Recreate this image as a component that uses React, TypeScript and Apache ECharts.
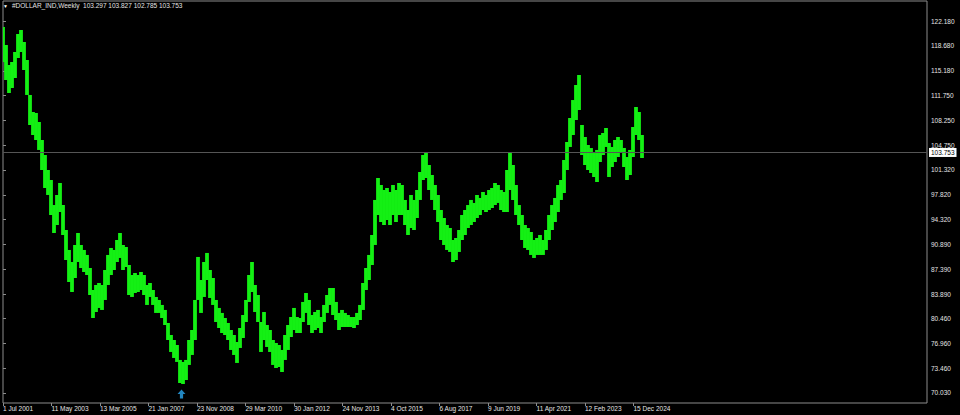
import { useEffect, useRef } from "react";
import * as echarts from "echarts";

// ---- data (each point spans 6 weekly bars) ----
const highs = [
  121.34, 118.82, 116.01, 116.43, 117.83, 120.36, 120.92, 119.24, 116.71, 111.81,
  109.42, 109.28, 108.02, 105.5, 103.39, 101.29, 99.89, 96.38, 97.79, 99.47,
  96.38, 92.88, 90.08, 88.39, 90.78, 92.46, 90.78, 90.08, 89.38, 87.55,
  84.47, 85.17, 85.45, 85.17, 87.27, 89.38, 90.36, 90.08, 91.48, 92.46,
  90.78, 90.5, 87.97, 86.57, 86.85, 86.57, 86.99, 86.57, 85.17, 85.45,
  84.47, 83.49, 83.07, 82.37, 81.67, 79.84, 78.16, 77.46, 76.76, 74.66,
  74.38, 74.66, 77.46, 78.86, 83.07, 89.1, 85.87, 88.39, 89.66, 87.27,
  86.15, 83.07, 81.95, 81.25, 80.54, 79.84, 78.86, 78.16, 77.18, 79.14,
  80.96, 83.07, 86.57, 88.39, 85.17, 83.77, 79.98, 81.38, 79.56, 78.86,
  77.46, 77.04, 76.76, 76.06, 78.16, 79.56, 80.68, 81.95, 80.68, 80.54,
  82.79, 84.05, 83.07, 80.96, 81.38, 81.67, 80.68, 82.37, 83.77, 84.75,
  84.75, 82.79, 81.25, 81.67, 81.25, 80.96, 80.68, 80.68, 81.25, 82.37,
  85.45, 87.55, 89.38, 92.18, 97.09, 100.17, 99.19, 98.49, 98.77, 98.21,
  99.19, 98.49, 99.47, 99.19, 97.09, 95.68, 97.79, 97.09, 98.49, 101.01,
  103.39, 103.81, 101.99, 100.59, 99.19, 97.79, 95.68, 94.56, 93.58, 93.16,
  91.48, 91.76, 92.88, 94.98, 95.68, 96.38, 97.09, 96.67, 97.79, 97.37,
  98.21, 97.79, 98.49, 98.77, 99.47, 99.19, 98.49, 98.21, 101.29, 103.81,
  101.99, 99.19, 96.38, 94.98, 93.58, 93.16, 92.6, 91.48, 91.76, 92.18,
  91.48, 92.88, 94.98, 96.38, 97.37, 99.19, 99.89, 102.69, 105.22, 108.58,
  111.1, 113.21, 114.61, 107.6, 105.92, 104.8, 104.37, 103.68, 104.1, 106.2,
  106.48, 107.18, 105.08, 104.52, 105.5, 105.92, 105.5, 104.38, 103.11, 104.1,
  107.32, 110.12, 109.42, 106.2
];
const lows = [
  116.43, 113.91, 112.09, 112.79, 114.19, 116.99, 117.83, 115.31, 111.81, 107.6,
  106.2, 105.5, 104.1, 101.29, 98.77, 97.79, 94.98, 92.46, 93.58, 95.4,
  92.18, 88.67, 85.59, 84.19, 86.15, 88.39, 87.55, 86.99, 86.57, 83.77,
  80.54, 81.38, 81.95, 81.67, 83.07, 85.17, 86.57, 87.27, 88.39, 88.96,
  87.27, 87.69, 83.77, 83.49, 84.05, 84.19, 84.47, 83.77, 82.37, 83.49,
  82.37, 81.25, 81.25, 80.54, 79.56, 77.46, 75.78, 74.94, 74.38, 71.43,
  71.29, 71.85, 73.96, 75.36, 77.46, 83.07, 81.25, 83.49, 85.87, 83.35,
  82.37, 79.98, 79.14, 78.44, 78.16, 77.46, 76.06, 75.36, 74.24, 76.34,
  77.74, 79.98, 82.79, 84.19, 81.38, 79.98, 75.78, 77.46, 76.48, 75.78,
  73.96, 73.53, 73.67, 72.97, 74.66, 76.06, 77.88, 78.86, 78.44, 78.44,
  79.98, 81.25, 79.56, 78.44, 78.86, 79.14, 78.44, 79.98, 81.25, 82.37,
  80.96, 80.26, 78.86, 79.28, 79.28, 79.28, 79.28, 79.14, 79.56, 80.26,
  81.67, 84.47, 85.87, 87.97, 90.78, 94.98, 94.0, 93.58, 94.28, 93.58,
  94.98, 94.0, 94.98, 94.98, 93.58, 92.18, 93.16, 92.88, 94.56, 97.09,
  99.89, 100.17, 98.49, 97.09, 95.68, 94.0, 91.48, 90.78, 90.08, 89.8,
  88.39, 88.67, 89.8, 91.48, 92.18, 93.16, 93.58, 94.0, 94.56, 94.98,
  95.68, 95.4, 95.68, 95.96, 96.38, 96.67, 95.68, 95.4, 95.4, 98.49,
  97.09, 94.98, 93.58, 91.48, 90.36, 90.08, 89.38, 88.96, 89.38, 89.38,
  89.38, 90.08, 91.48, 92.88, 94.0, 95.4, 97.09, 98.07, 101.29, 104.52,
  106.2, 108.3, 109.7, 103.39, 101.99, 101.29, 100.87, 100.31, 99.61, 102.41,
  103.39, 104.52, 100.31, 101.71, 102.41, 103.11, 103.68, 101.71, 99.89, 100.59,
  103.11, 106.2, 105.5, 102.97
];
const BARS_PER_POINT = 6;

const priceTicks = [
  70.03, 73.46, 76.96, 80.46, 83.89, 87.39, 90.89, 94.32, 97.82, 101.32,
  104.75, 108.25, 111.75, 115.18, 118.68, 122.18
];
const dateLabels = [
  "1 Jul 2001", "11 May 2003", "13 Mar 2005", "21 Jan 2007", "23 Nov 2008",
  "29 Mar 2010", "30 Jan 2012", "24 Nov 2013", "4 Oct 2015", "6 Aug 2017",
  "9 Jun 2019", "11 Apr 2021", "12 Feb 2023", "15 Dec 2024"
];
const dateLabelBars = [0, 97, 194, 291, 388, 485, 582, 679, 776, 873, 970, 1067, 1164, 1261];

const symbolName = "#DOLLAR_IND,Weekly";
const lastOHLC = [103.297, 103.827, 102.785, 103.753];
const lastClose = 103.753;
const arrowPoint = [357, 69.89];

const FONT = "'Liberation Sans', Arial, sans-serif";
const TXT = "#e4e4e4";
const GREEN = "#14f014";

export default function App() {
  const ref = useRef<HTMLDivElement>(null);
  useEffect(() => {
    const chart = echarts.init(ref.current!, null, { renderer: "svg" });
    const seriesData = highs.map((h, i) => [i * BARS_PER_POINT, lows[i], h]);
    chart.setOption({
      animation: false,
      backgroundColor: "#000000",
      grid: {
        left: 1,
        top: 1,
        right: 33,
        bottom: 12,
        show: true,
        borderColor: "#8c8c8c",
        borderWidth: 1,
        backgroundColor: "#000000",
      },
      xAxis: {
        type: "value",
        min: 0,
        max: 1848,
        splitLine: { show: false },
        axisLine: { show: false },
        axisTick: {
          show: true,
          customValues: dateLabelBars,
          length: 3,
          lineStyle: { color: "#8c8c8c" },
        },
        axisLabel: {
          customValues: dateLabelBars,
          color: TXT,
          fontSize: 6.5,
          fontFamily: FONT,
          align: "left",
          margin: 2,
          formatter: (v: number) => {
            const k = dateLabelBars.indexOf(Math.round(v));
            return k >= 0 ? dateLabels[k] : "";
          },
        },
      },
      yAxis: {
        type: "value",
        position: "right",
        min: 68.625,
        max: 124.984,
        splitLine: { show: false },
        axisLine: { show: false },
        axisTick: {
          show: true,
          customValues: priceTicks,
          length: 3,
          lineStyle: { color: "#8c8c8c" },
        },
        axisLabel: {
          customValues: priceTicks,
          color: TXT,
          fontSize: 6.5,
          fontFamily: FONT,
          margin: 4,
          formatter: (v: number) => v.toFixed(3),
        },
      },
      graphic: [
        {
          type: "text",
          left: 3,
          top: 3,
          style: { text: "▼", fill: "#ffffff", fontSize: 5, fontFamily: FONT },
        },
        {
          type: "text",
          left: 12,
          top: 2,
          style: {
            text: symbolName + "  " + lastOHLC.map((v) => v.toFixed(3)).join(" "),
            fill: TXT,
            fontSize: 6.5,
            fontFamily: FONT,
          },
        },
      ],
      series: [
        {
          type: "custom",
          clip: true,
          data: seriesData,
          renderItem: (params: any, api: any) => {
            const b = api.value(0);
            const lo = api.value(1);
            const hi = api.value(2);
            const pTop = api.coord([b, hi]);
            const pBot = api.coord([b, lo]);
            const w = api.size([BARS_PER_POINT, 0])[0];
            return {
              type: "rect",
              shape: {
                x: pTop[0] - w / 2 - 0.4,
                y: pTop[1],
                width: w + 0.8,
                height: Math.max(1, pBot[1] - pTop[1]),
              },
              style: { fill: GREEN },
            };
          },
          markLine: {
            silent: true,
            symbol: ["none", "none"],
            lineStyle: { color: "#555555", width: 1, type: "solid" },
            data: [{ yAxis: lastClose }],
            label: {
              show: true,
              position: "end",
              distance: 2,
              formatter: lastClose.toFixed(3),
              color: "#000000",
              backgroundColor: "#ffffff",
              padding: [1, 2, 1, 2],
              fontSize: 6.5,
              fontFamily: FONT,
            },
          },
        },
        {
          type: "scatter",
          data: [arrowPoint],
          symbol: "path://M5,0 L10,5 L7,5 L7,10 L3,10 L3,5 L0,5 Z",
          symbolSize: [8, 9],
          itemStyle: { color: "#2aa6ee" },
          silent: true,
        },
      ],
    });
    return () => chart.dispose();
  }, []);
  return (
    <div
      ref={ref}
      style={{ position: "fixed", left: 0, top: 0, width: 960, height: 415, background: "#000" }}
    />
  );
}
